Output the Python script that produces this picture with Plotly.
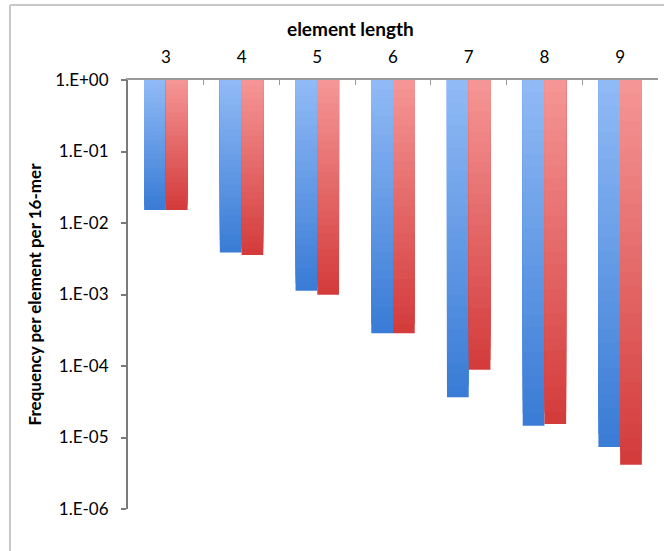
import numpy as np
import plotly.graph_objects as go

# Element lengths and observed frequencies per element per 16-mer
lengths = ["3", "4", "5", "6", "7", "8", "9"]
freq_blue = [0.0152, 0.00386, 0.00113, 0.000288, 0.0000367, 0.0000146, 0.00000735]
freq_red = [0.0152, 0.00358, 0.00099, 0.000288, 0.0000885, 0.0000154, 0.00000416]

y_ticks = [1e0, 1e-1, 1e-2, 1e-3, 1e-4, 1e-5, 1e-6]
y_ticktext = ["1.E+00", "1.E-01", "1.E-02", "1.E-03", "1.E-04", "1.E-05", "1.E-06"]

# light (top) -> dark (tip) gradient stops for each series
blue_light, blue_dark = (147, 188, 246), (58, 124, 214)
red_light, red_dark = (246, 152, 152), (212, 60, 60)

W, H = 664, 551
ML, MR, MT, MB = 128, 6, 80, 42
FONT = "Lato"

N_STEPS = 28


def mix(c1, c2, t):
    return "rgb({:.0f},{:.0f},{:.0f})".format(*[a + (b - a) * t for a, b in zip(c1, c2)])


fig = go.Figure()

# Bars hang from 1.0 down to the value; gradient built from overlapping
# bars, darkest (full length) drawn first, lighter shorter ones on top.
for name, vals, light, dark in [("blue", freq_blue, blue_light, blue_dark),
                                ("red", freq_red, red_light, red_dark)]:
    logs = np.log10(np.array(vals))
    for k in range(N_STEPS, 0, -1):
        t = k / N_STEPS
        ends = 10 ** (logs * t)
        fig.add_trace(go.Bar(
            x=lengths,
            y=ends - 1.0,
            base=1.0,
            offsetgroup=name,
            marker=dict(color=mix(light, dark, t), line=dict(width=0)),
            showlegend=False,
            hoverinfo="skip" if k < N_STEPS else None,
        ))

pw, ph = W - ML - MR, H - MT - MB

fig.update_layout(
    width=W, height=H,
    margin=dict(l=ML, r=MR, t=MT, b=MB),
    paper_bgcolor="white", plot_bgcolor="white",
    barmode="group", bargap=0.426, bargroupgap=0,
    font=dict(family=FONT, color="black", size=17),
    xaxis=dict(
        type="category", side="top",
        showline=True, linecolor="#9a9a9a", linewidth=1.5, mirror=False,
        ticks="inside", tickson="boundaries", ticklen=5, tickcolor="#9a9a9a",
        tickfont=dict(size=17), ticklabelstandoff=8,
        showgrid=False, zeroline=False,
    ),
    yaxis=dict(
        type="log", range=[-6, 0],
        tickvals=y_ticks, ticktext=y_ticktext,
        title=dict(text="<b>Frequency per element per 16-mer</b>", font=dict(size=17), standoff=9),
        showline=True, linecolor="#7a7a7a", linewidth=2,
        ticks="outside", ticklen=5, tickcolor="#7a7a7a", tickwidth=1.5,
        tickfont=dict(size=17), ticklabelstandoff=9,
        showgrid=False, zeroline=False,
    ),
)

# horizontal axis title, placed above the category labels
fig.add_annotation(
    text="<b>element length</b>", showarrow=False,
    xref="paper", yref="paper",
    x=(350 - ML) / pw, y=1 + (MT - 28) / ph,
    xanchor="center", yanchor="middle",
    font=dict(size=19, family=FONT, color="black"),
)

# light grey chart frame along the top and left edges
fx = (10 - ML) / pw
fy_top = 1 + (MT - 5) / ph
fy_bot = -(MB + 5) / ph
fig.add_shape(type="line", xref="paper", yref="paper", x0=fx, x1=1 + (MR + 5) / pw,
              y0=fy_top, y1=fy_top, line=dict(color="#c8c8c8", width=2))
fig.add_shape(type="line", xref="paper", yref="paper", x0=fx, x1=fx,
              y0=fy_top, y1=fy_bot, line=dict(color="#c8c8c8", width=2))

fig.write_html("out.html")
